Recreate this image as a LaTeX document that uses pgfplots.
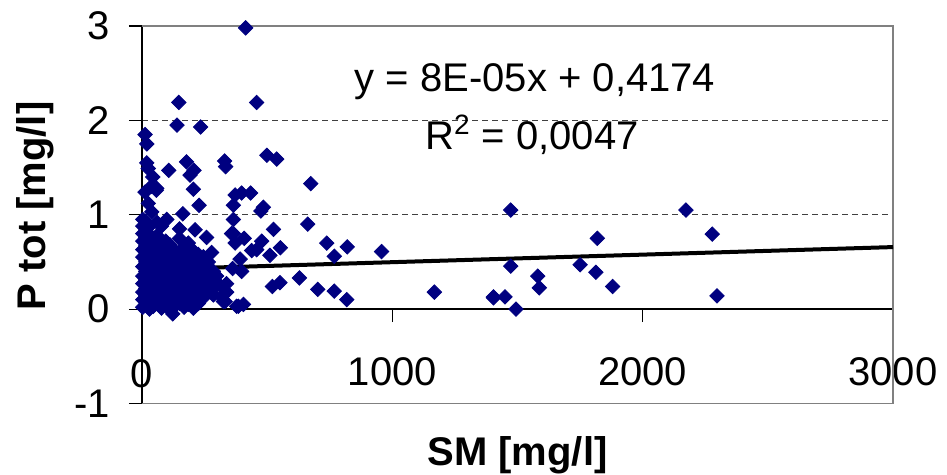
\documentclass[border=0pt]{standalone}
\usepackage{fontspec}
\setmainfont{Liberation Sans}
\usepackage{pgfplots}
\pgfplotsset{compat=1.18}
\definecolor{navy}{RGB}{0,0,128}
\definecolor{bordergray}{RGB}{128,128,128}
\begin{document}
\begin{tikzpicture}
\useasboundingbox (-71pt,-35.75pt) rectangle (402.5pt,201.75pt);
\begin{axis}[
  scale only axis, width=375.5pt, height=188.75pt,
  at={(0,0)}, anchor=south west,
  xmin=0, xmax=3000, ymin=-1, ymax=3,
  axis x line=middle, axis y line=left,
  axis line style={-, black, line width=0.7pt},
  hide obscured x ticks=false, hide obscured y ticks=false,
  xtick={1000,2000,3000}, ytick={-1,0,1,2,3},
  tick align=outside, major tick length=6.5pt,
  tick style={black, line width=0.6pt},
  minor tick num=0,
  /pgf/number format/assume math mode=true,
  /pgf/number format/1000 sep={},
  ticklabel style={font=\fontsize{20}{24}\selectfont},
  xticklabel style={yshift=-14pt},
  yticklabel style={xshift=-6pt},
  ymajorgrids=true,
  grid style={black!75, dash pattern=on 3pt off 2pt, line width=0.5pt},
  clip=false,
  xlabel={SM [mg/l]}, ylabel={P tot [mg/l]},
  label style={font=\fontsize{20}{24}\selectfont\bfseries},
  xlabel style={at={(axis description cs:0.5,0)}, anchor=center, yshift=-25.75pt},
  ylabel style={at={(axis description cs:-0.1425,0.523)}, anchor=center},
]
\draw[bordergray, line width=0.6pt] (rel axis cs:0,0)--(rel axis cs:1,0)--(rel axis cs:1,1)--(rel axis cs:0,1);
\draw[black, line width=0.6pt] (axis cs:0,0) -- ++(0,-6.5pt);
\node[font=\fontsize{20}{24}\selectfont, anchor=center] at ([yshift=-32.5pt]axis cs:0,0) {0};
\addplot[only marks, mark=square*, mark size=2.55pt, mark options={rotate=45, fill=navy, draw=navy}] coordinates {
(414,2.98) (458,2.19) (147,2.19) (140,1.95) (234,1.93) (12,1.85) (19,1.75)
(499,1.63) (538,1.59) (674,1.33) (330,1.57) (334,1.51) (178,1.56) (107,1.47)
(208,1.47) (192,1.42) (19,1.55) (25,1.49) (43,1.40) (59,1.28) (12,1.24) (37,1.30) (57,1.26)
(205,1.27) (372,1.21) (398,1.23) (434,1.23) (228,1.10) (485,1.08) (475,1.04)
(365,1.10) (25,1.12) (39,1.03) (365,0.95) (99,0.95) (163,1.01) (662,0.90)
(525,0.845) (365,0.80) (408,0.75) (478,0.72) (738,0.70) (820,0.66) (957,0.61)
(768,0.56) (553,0.65) (511,0.57) (438,0.62) (458,0.63) (258,0.76) (212,0.84)
(278,0.60) (392,0.53) (362,0.43) (398,0.40) (521,0.24) (551,0.28) (629,0.33)
(702,0.21) (768,0.19) (818,0.10) (1168,0.18) (1404,0.13) (378,0.03) (405,0.05)
(312,0.25) (338,0.18) (325,0.08) (123,-0.05) (358,0.80) (372,0.70) (245,0.555)
(252,0.34) (298,0.35) (292,0.24) (338,0.27) (318,0.13) (332,0.08) (385,0.03)
(1473,1.05) (2173,1.05) (1819,0.75) (1473,0.456) (1750,0.47) (1813,0.39)
(1581,0.35) (1587,0.226) (1880,0.24) (1404,0.12) (1450,0.13) (1494,0.0)
(2278,0.795) (2297,0.14)
(3,0.02) (3,0.10) (3,0.18) (3,0.27) (3,0.35) (3,0.45) (3,0.55) (3,0.63) (3,0.72) (3,0.80) (3,0.88) (3,0.95)
(15,0.05) (15,0.14) (15,0.22) (15,0.31) (15,0.40) (15,0.50) (15,0.58) (15,0.67) (15,0.76) (15,0.85) (15,0.93)
(30,0.00) (30,0.09) (30,0.18) (30,0.26) (30,0.35) (30,0.44) (30,0.53) (30,0.62) (30,0.70) (30,0.79) (30,0.88)
(45,0.03) (45,0.12) (45,0.21) (45,0.30) (45,0.39) (45,0.48) (45,0.57) (45,0.66) (45,0.75)
(60,0.06) (60,0.15) (60,0.24) (60,0.33) (60,0.42) (60,0.51) (60,0.60) (60,0.69) (60,0.78) (60,0.92)
(78,0.01) (78,0.10) (78,0.19) (78,0.28) (78,0.37) (78,0.47) (78,0.56) (78,0.65) (78,0.88)
(95,0.04) (95,0.13) (95,0.22) (95,0.31) (95,0.40) (95,0.50) (95,0.60) (95,0.72)
(112,0.00) (112,0.08) (112,0.17) (112,0.26) (112,0.35) (112,0.45) (112,0.58) (112,0.68)
(130,0.03) (130,0.12) (130,0.21) (130,0.30) (130,0.39) (130,0.52) (130,0.62)
(150,0.06) (150,0.15) (150,0.24) (150,0.33) (150,0.42) (150,0.55) (150,0.75) (150,0.85)
(168,0.02) (168,0.10) (168,0.19) (168,0.28) (168,0.37) (168,0.50) (168,0.66)
(185,0.05) (185,0.14) (185,0.23) (185,0.32) (185,0.45) (185,0.58) (185,0.70)
(205,0.01) (205,0.10) (205,0.20) (205,0.30) (205,0.40) (205,0.52) (205,0.62)
(225,0.06) (225,0.16) (225,0.27) (225,0.38) (225,0.48) (225,0.58)
(245,0.12) (245,0.22) (245,0.33) (245,0.44)
(265,0.20) (265,0.30) (265,0.50) (285,0.15) (285,0.40)
};
\addplot[black, line width=2pt] coordinates {(0,0.4174) (3000,0.6574)};
\node[font=\fontsize{20}{24}\selectfont] at (axis cs:1570,2.41) {y = 8E-05x + 0,4174};
\node[font=\fontsize{20}{24}\selectfont] at (axis cs:1558,1.845) {R\textsuperscript{2} = 0,0047};
\end{axis}
\end{tikzpicture}
\end{document}
